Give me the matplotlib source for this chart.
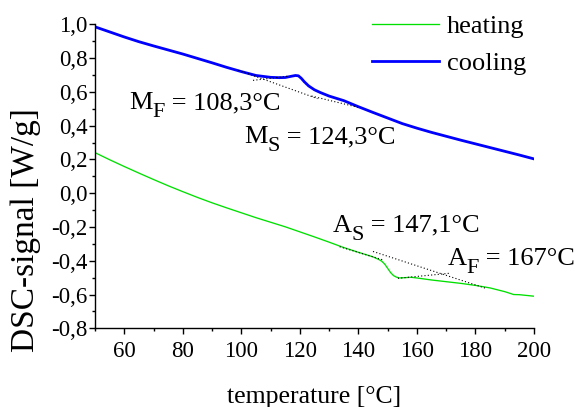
import matplotlib
matplotlib.use("Agg")
import matplotlib.pyplot as plt
from matplotlib.ticker import FixedLocator, MultipleLocator, FuncFormatter
from matplotlib.transforms import offset_copy

plt.rcParams['font.family'] = ['Liberation Serif', 'DejaVu Serif']

# ---- data ----
heat_T = [50, 55, 60, 65, 70, 75, 80, 85, 90, 95, 100, 105, 110, 115, 120, 125,
          130, 135, 140, 145, 147, 148, 149, 150, 151, 152, 153, 154, 156, 158,
          160, 165, 170, 175, 180, 185, 190, 192, 193, 195, 200]
heat_v = [0.240, 0.198, 0.158, 0.119, 0.081, 0.044, 0.009, -0.025, -0.057, -0.087,
          -0.116, -0.145, -0.172, -0.199, -0.229, -0.259, -0.290, -0.322, -0.350,
          -0.377, -0.393, -0.403, -0.420, -0.445, -0.470, -0.488, -0.497, -0.502,
          -0.500, -0.498, -0.502, -0.514, -0.524, -0.534, -0.546, -0.561, -0.583,
          -0.594, -0.600, -0.601, -0.610]

cool_T = [50, 55, 60, 65, 70, 75, 80, 85, 90, 95, 100, 105, 110, 113, 115, 117,
          118.5, 119.5, 120.5, 121.5, 123, 125, 127, 130, 135, 140, 145, 150, 155,
          160, 165, 170, 175, 180, 185, 190, 195, 200]
cool_v = [0.985, 0.955, 0.925, 0.897, 0.872, 0.848, 0.824, 0.798, 0.772, 0.745,
          0.720, 0.697, 0.686, 0.684, 0.685, 0.692, 0.697, 0.695, 0.680, 0.660,
          0.635, 0.612, 0.596, 0.575, 0.548, 0.512, 0.478, 0.445, 0.412, 0.385,
          0.360, 0.337, 0.314, 0.292, 0.270, 0.248, 0.226, 0.203]

# tangent construction lines (dotted)
cool_tangents = [([99, 126], [0.728, 0.560]),
                 ([104, 116], [0.668, 0.693]),
                 ([124, 140], [0.575, 0.508])]
heat_tangents = [([133.6, 148.4], [-0.317, -0.395]),
                 ([145, 183.5], [-0.345, -0.563]),
                 ([153.5, 171.2], [-0.504, -0.474])]

# annotation texts: (main letter, subscript, rest)
ann_texts = [('M', 'F', ' = 108,3°C'), ('M', 'S', ' = 124,3°C'),
             ('A', 'S', ' = 147,1°C'), ('A', 'F', ' = 167°C')]
ann_pos = [(61.7, 0.498), (100.9, 0.295), (131.2, -0.228), (170.5, -0.425)]

x_ticks = [60, 80, 100, 120, 140, 160, 180, 200]
y_ticks = [-0.8, -0.6, -0.4, -0.2, 0.0, 0.2, 0.4, 0.6, 0.8, 1.0]

fig = plt.figure(figsize=(5.75, 4.07), dpi=100)
ax = fig.add_axes([95/575, 1-328.3/407, (534-95)/575, (328.3-24.3)/407])

ax.plot(heat_T, heat_v, color='#00e000', lw=0.95, label='heating')
ax.plot(cool_T, cool_v, color='#0000ff', lw=2.0, label='cooling')
for xs, ys in cool_tangents + heat_tangents:
    ax.plot(xs, ys, color='black', lw=0.8, ls=(0, (1, 2)))

ax.set_xlim(50, 200)
ax.set_ylim(-0.8, 1.0)
ax.xaxis.set_major_locator(FixedLocator(x_ticks))
ax.xaxis.set_minor_locator(MultipleLocator(10))
ax.yaxis.set_major_locator(FixedLocator(y_ticks))
ax.yaxis.set_minor_locator(MultipleLocator(0.1))
ax.yaxis.set_major_formatter(FuncFormatter(lambda v, p: f"{v:.1f}".replace('.', ',').replace('-0,0', '0,0')))
ax.xaxis.set_major_formatter(FuncFormatter(lambda v, p: f"{int(round(v))}"))
ax.tick_params(which='major', direction='out', length=4, width=1, labelsize=16.5)
ax.tick_params(axis='y', which='major', pad=1.5)
ax.tick_params(axis='x', which='major', pad=5)
ax.tick_params(which='minor', direction='out', length=2.5, width=1)
for s in ['top', 'right']:
    ax.spines[s].set_visible(False)
for s in ['left', 'bottom']:
    ax.spines[s].set_linewidth(1.0)

ax.set_xlabel('temperature [°C]', fontsize=18.5)
ax.xaxis.set_label_coords(0.5, -0.245)
ax.xaxis.label.set_va('baseline')
ax.set_ylabel('DSC-signal [W/g]', fontsize=24)
ax.yaxis.set_label_coords(-(95 - 41) / 439, 1 - (230 - 24.3) / 304)

ax.legend(loc='upper left', bbox_to_anchor=(372/575, 1-15/407), bbox_transform=fig.transFigure,
          frameon=False, fontsize=19, handlelength=2.55, handletextpad=0.3,
          labelspacing=0.5, borderpad=0, borderaxespad=0)

# annotations with larger, lower subscripts
fig.canvas.draw()
renderer = fig.canvas.get_renderer()
for (main, sub, rest), (x, y) in zip(ann_texts, ann_pos):
    t1 = ax.text(x, y, main, fontsize=19, ha='left', va='baseline')
    w1 = t1.get_window_extent(renderer).width
    tr2 = offset_copy(ax.transData, fig=fig, x=w1 * 72 / fig.dpi, y=-5.8, units='points')
    t2 = ax.text(x, y, sub, fontsize=16, ha='left', va='baseline', transform=tr2)
    w2 = t2.get_window_extent(renderer).width
    tr3 = offset_copy(ax.transData, fig=fig, x=(w1 + w2) * 72 / fig.dpi, y=0, units='points')
    ax.text(x, y, rest, fontsize=19, ha='left', va='baseline', transform=tr3)

fig.savefig('out.png', dpi=100)
